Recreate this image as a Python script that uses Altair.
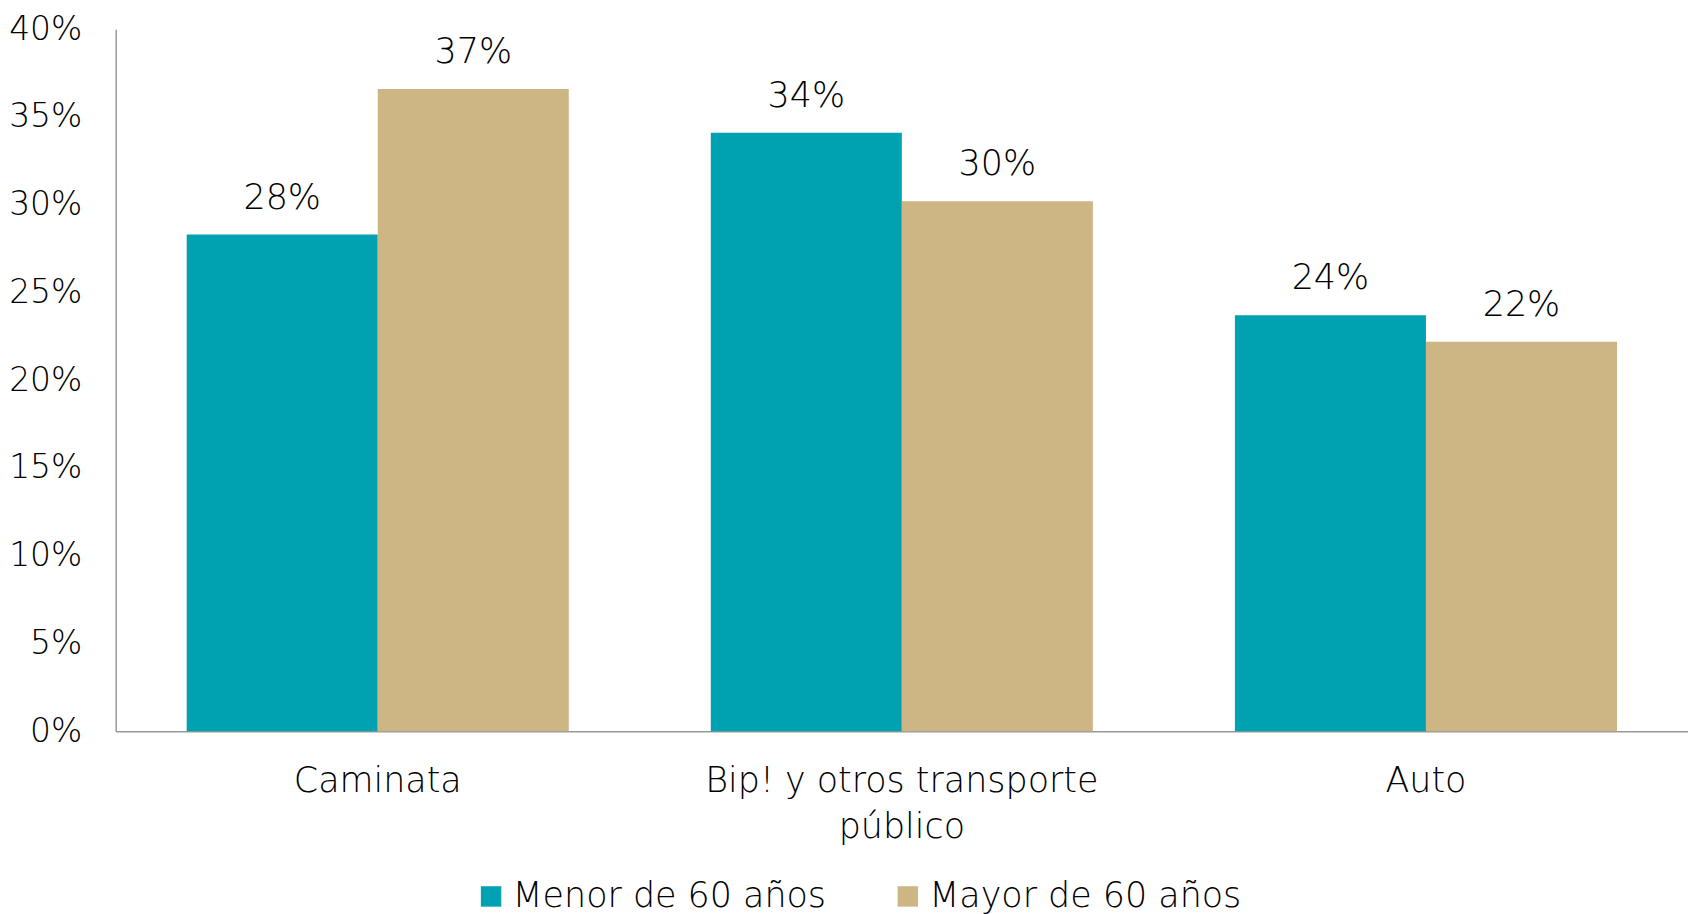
import altair as alt
import pandas as pd

categories = ["Caminata", "Bip! y otros transporte público", "Auto"]
groups = ["Menor de 60 años", "Mayor de 60 años"]
menor = [28.3, 34.1, 23.7]
mayor = [36.6, 30.2, 22.2]
labels_menor = ["28%", "34%", "24%"]
labels_mayor = ["37%", "30%", "22%"]
colors = ["#00A1B0", "#CDB584"]

rows = []
for i, c in enumerate(categories):
    rows.append({"cat": c, "grupo": groups[0], "val": menor[i] / 100, "lab": labels_menor[i]})
    rows.append({"cat": c, "grupo": groups[1], "val": mayor[i] / 100, "lab": labels_mayor[i]})
df = pd.DataFrame(rows)

FONT = "DejaVu Sans"
FW = 300
FS = 35

x = alt.X(
    "cat:N",
    sort=categories,
    scale=alt.Scale(paddingInner=0.271, paddingOuter=0.1355),
    axis=alt.Axis(
        title=None,
        labelAngle=0,
        ticks=False,
        domainColor="#999999",
        domainWidth=1.5,
        labelFont=FONT,
        labelFontWeight=FW,
        labelFontSize=FS,
        labelColor="#000000",
        labelPadding=32,
        labelLimit=0,
        labelLineHeight=47,
        labelExpr="datum.value == 'Bip! y otros transporte público' ? ['Bip! y otros transporte', 'público'] : datum.value",
    ),
)
y = alt.Y(
    "val:Q",
    scale=alt.Scale(domain=[0, 0.4]),
    axis=alt.Axis(
        title=None,
        format=".0%",
        values=[0, 0.05, 0.1, 0.15, 0.2, 0.25, 0.3, 0.35, 0.4],
        ticks=False,
        grid=False,
        domainColor="#999999",
        domainWidth=1.5,
        labelFont=FONT,
        labelFontWeight=FW,
        labelFontSize=33,
        labelColor="#000000",
        labelPadding=34,
        labelLimit=0,
    ),
)
xo = alt.XOffset("grupo:N", sort=groups)

bars = alt.Chart(df).mark_bar().encode(
    x=x,
    y=y,
    xOffset=xo,
    color=alt.Color(
        "grupo:N",
        sort=groups,
        scale=alt.Scale(domain=groups, range=colors),
        legend=alt.Legend(
            title=None,
            orient="none",
            legendX=359,
            legendY=852,
            direction="horizontal",
            symbolType="square",
            symbolSize=420,
            symbolStrokeWidth=0,
            labelFont=FONT,
            labelFontWeight=FW,
            labelFontSize=FS,
            labelColor="#000000",
            labelOffset=4,
            labelLimit=0,
            columnPadding=64,
        ),
    ),
)

text = alt.Chart(df).mark_text(
    baseline="bottom", dy=-19, font=FONT, fontWeight=FW, fontSize=FS, color="#000000"
).encode(x=x, y=y, xOffset=xo, text="lab:N")

chart = (
    alt.layer(bars, text)
    .properties(
        width=1577,
        height=704,
        autosize=alt.AutoSizeParams(type="none"),
        padding={"left": 108, "top": 20, "right": 0, "bottom": 182},
    )
    .configure_view(stroke=None)
)

chart.save("out.html", embed_options={"renderer": "svg", "actions": False})
